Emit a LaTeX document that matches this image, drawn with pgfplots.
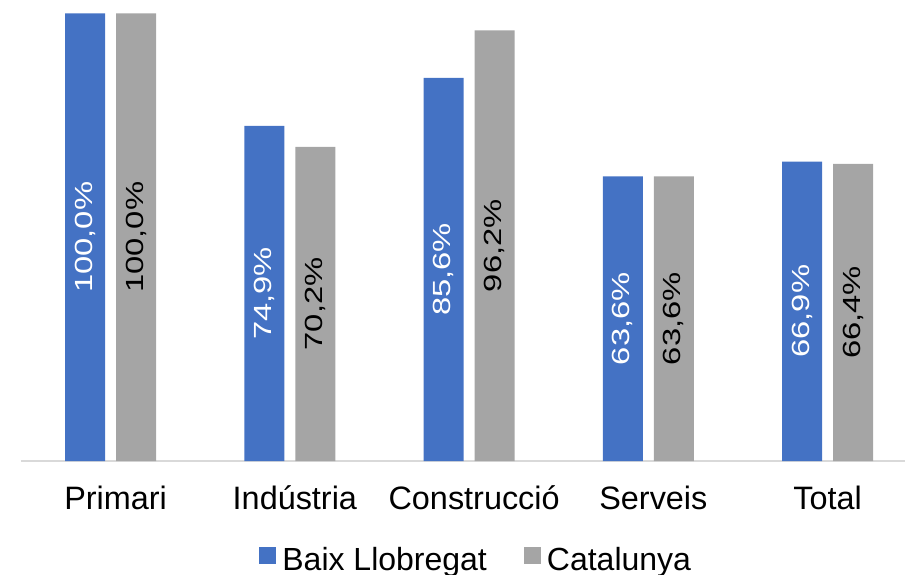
\documentclass[border=0pt]{standalone}
\usepackage{fontspec}
\setmainfont{Liberation Sans}
\usepackage{graphicx}
\usepackage{pgfplots}
\pgfplotsset{compat=1.18}
\definecolor{cblue}{HTML}{4472C4}
\definecolor{cgray}{HTML}{A5A5A5}
\definecolor{caxis}{HTML}{D9D9D9}
\begin{document}
\begin{tikzpicture}
\begin{axis}[
  scale only axis,
  width=442pt, height=230.5pt,
  xmin=-0.5, xmax=4.4317,
  ymin=0, ymax=103,
  enlargelimits=false,
  axis x line=bottom, axis y line=none,
  x axis line style={-, draw=caxis, line width=0.7pt},
  xtick={0,1,2,3,4},
  xticklabels={Primari,Indústria,Construcció,Serveis,Total\hspace*{5pt}},
  major tick length=0pt,
  xticklabel style={anchor=base, yshift=-24pt, xshift=2.5pt, font=\fontsize{16.2}{19}\selectfont},
  ybar=5.5pt, bar width=20pt,
  /pgf/number format/assume math mode=true,
  nodes near coords={\scalebox{1.32}[1]{\pgfmathprintnumber[fixed,fixed zerofill,precision=1,use comma]{\pgfplotspointmeta}\%}},
  visualization depends on=y \as \rawy,
  every node near coord/.append style={shift={(axis direction cs:0,-\rawy/2)}, rotate=90, anchor=center, font=\fontsize{12.4}{14}\selectfont, inner sep=0pt},
  legend columns=2,
  legend style={draw=none, fill=none, inner sep=0pt, at={(0.2692,-0.177)}, anchor=north west, font=\fontsize{16}{19}\selectfont, /tikz/every even column/.append style={column sep=16.5pt}},
  legend image code/.code={\fill[#1] (0pt,-1.8pt) rectangle (8.5pt,6.7pt); \path (9.5pt,0pt);},
  clip=false,
]
\addplot[fill=cblue, draw=none, every node near coord/.append style={text=white}] coordinates {(0,100) (1,74.9) (2,85.6) (3,63.6) (4,66.9)};
\addplot[fill=cgray, draw=none, every node near coord/.append style={text=black}] coordinates {(0,100) (1,70.2) (2,96.2) (3,63.6) (4,66.4)};
\legend{Baix Llobregat, Catalunya}
\end{axis}
\pgfresetboundingbox
\path[use as bounding box] (-10.5pt,-56.5pt) rectangle (442pt,230.5pt);
\end{tikzpicture}
\end{document}
